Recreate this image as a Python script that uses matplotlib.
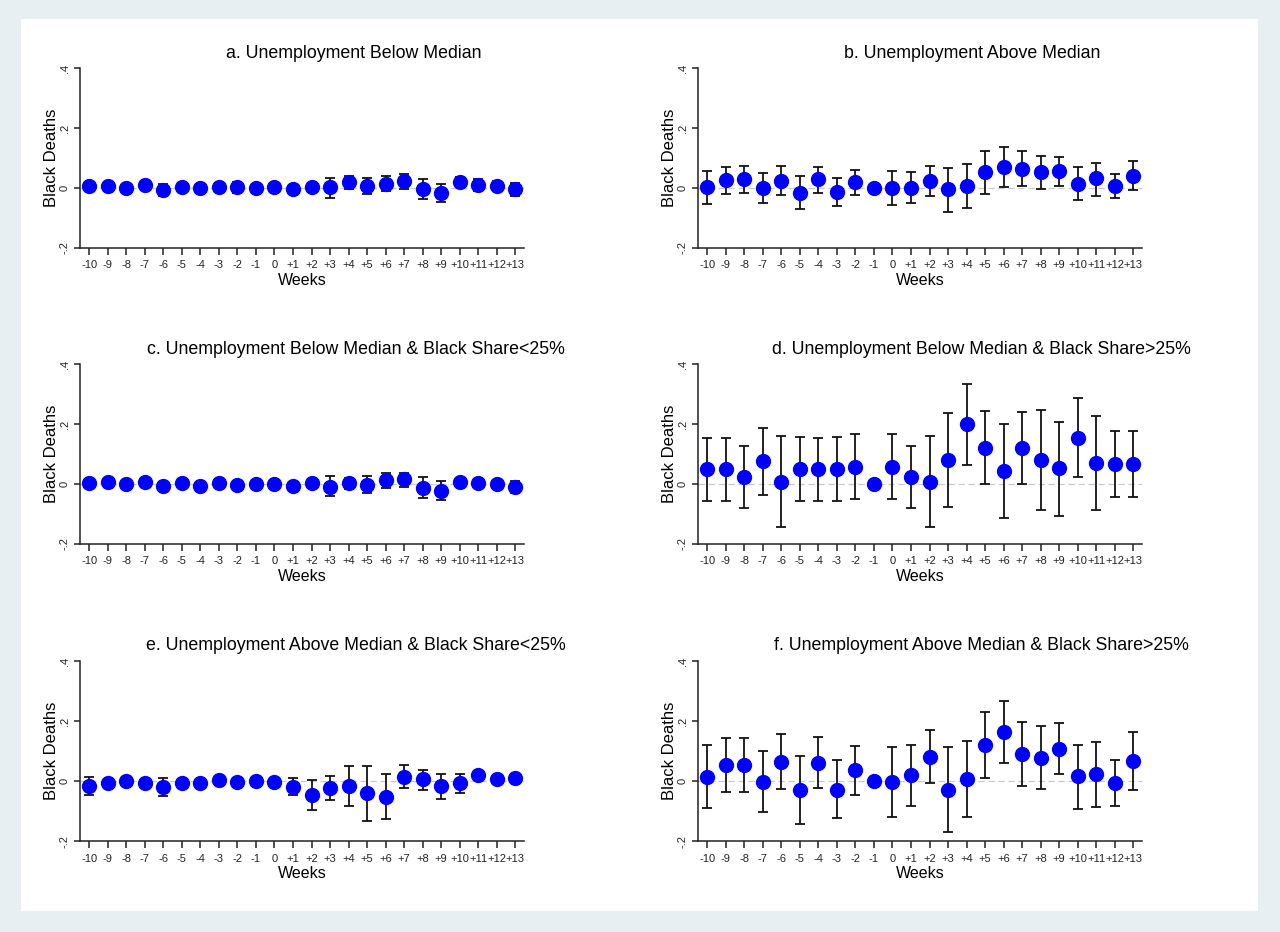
import numpy as np
import matplotlib
matplotlib.use('Agg')
import matplotlib.pyplot as plt
from matplotlib.patches import Rectangle

plt.rcParams['font.family'] = ['Liberation Sans', 'DejaVu Sans']

nan = np.nan

# weeks relative to event
weeks = list(range(-10, 14))
week_labels = [str(w) if w <= 0 else '+' + str(w) for w in weeks]

titles = ['a. Unemployment Below Median',
          'b. Unemployment Above Median',
          'c. Unemployment Below Median & Black Share<25%',
          'd. Unemployment Below Median & Black Share>25%',
          'e. Unemployment Above Median & Black Share<25%',
          'f. Unemployment Above Median & Black Share>25%']

# coefficient, lower ci, upper ci
a_coef = [0.006, 0.007, 0.000, 0.011, -0.006, 0.004, -0.001, 0.004, 0.002, 0.0, 0.004, -0.003,
          0.002, 0.002, 0.019, 0.007, 0.015, 0.022, -0.002, -0.017, 0.019, 0.009, 0.006, -0.002]
a_lo = [-0.004, -0.003, -0.008, -0.001, -0.025, -0.006, -0.014, -0.006, -0.016, nan, -0.007, -0.013,
        -0.009, -0.033, -0.002, -0.019, -0.011, -0.003, -0.038, -0.048, 0.002, -0.011, -0.009, -0.026]
a_hi = [0.016, 0.017, 0.009, 0.023, 0.015, 0.014, 0.013, 0.014, 0.020, nan, 0.015, 0.008,
        0.013, 0.034, 0.039, 0.035, 0.039, 0.046, 0.031, 0.015, 0.037, 0.029, 0.022, 0.016]

b_coef = [0.002, 0.027, 0.029, -0.001, 0.025, -0.016, 0.029, -0.013, 0.020, 0.0, 0.0, 0.001,
          0.025, -0.004, 0.007, 0.053, 0.070, 0.064, 0.053, 0.056, 0.015, 0.032, 0.007, 0.040]
b_lo = [-0.054, -0.020, -0.018, -0.051, -0.023, -0.070, -0.016, -0.060, -0.022, nan, -0.058, -0.051,
        -0.027, -0.079, -0.066, -0.019, 0.003, 0.007, -0.003, 0.008, -0.040, -0.025, -0.034, -0.007]
b_hi = [0.057, 0.070, 0.074, 0.049, 0.074, 0.040, 0.070, 0.035, 0.060, nan, 0.058, 0.053,
        0.075, 0.068, 0.079, 0.125, 0.136, 0.122, 0.106, 0.103, 0.069, 0.085, 0.046, 0.090]

c_coef = [0.003, 0.006, 0.000, 0.006, -0.006, 0.002, -0.006, 0.002, -0.002, 0.0, 0.0, -0.006,
          0.002, -0.010, 0.002, -0.003, 0.012, 0.016, -0.012, -0.023, 0.008, 0.004, 0.000, -0.010]
c_lo = [-0.005, -0.003, -0.008, -0.003, -0.016, -0.006, -0.015, -0.006, -0.011, nan, -0.008, -0.015,
        -0.006, -0.039, -0.017, -0.029, -0.012, -0.010, -0.046, -0.053, -0.006, -0.009, -0.013, -0.029]
c_hi = [0.011, 0.015, 0.008, 0.015, 0.004, 0.010, 0.003, 0.010, 0.007, nan, 0.008, 0.003,
        0.010, 0.028, 0.020, 0.026, 0.036, 0.038, 0.025, 0.009, 0.021, 0.017, 0.013, 0.011]

d_coef = [0.049, 0.049, 0.022, 0.076, 0.008, 0.049, 0.049, 0.049, 0.058, 0.0, 0.058, 0.022,
          0.008, 0.079, 0.199, 0.120, 0.042, 0.120, 0.079, 0.053, 0.154, 0.069, 0.067, 0.067]
d_lo = [-0.055, -0.055, -0.079, -0.036, -0.142, -0.058, -0.057, -0.058, -0.050, nan, -0.050, -0.079,
        -0.142, -0.078, 0.065, -0.001, -0.113, 0.001, -0.088, -0.105, 0.023, -0.088, -0.044, -0.044]
d_hi = [0.155, 0.155, 0.126, 0.188, 0.160, 0.156, 0.154, 0.156, 0.166, nan, 0.166, 0.126,
        0.160, 0.236, 0.334, 0.242, 0.199, 0.240, 0.246, 0.208, 0.287, 0.228, 0.177, 0.177]

e_coef = [-0.017, -0.007, 0.000, -0.008, -0.020, -0.007, -0.007, 0.002, -0.004, 0.0, -0.004, -0.021,
          -0.048, -0.023, -0.016, -0.041, -0.054, 0.015, 0.006, -0.018, -0.007, 0.020, 0.006, 0.009]
e_lo = [-0.047, -0.015, -0.007, -0.016, -0.049, -0.015, -0.015, -0.006, -0.012, nan, -0.012, -0.048,
        -0.096, -0.064, -0.082, -0.132, -0.126, -0.023, -0.029, -0.059, -0.039, 0.010, -0.002, -0.001]
e_hi = [0.012, 0.001, 0.007, 0.000, 0.010, 0.001, 0.001, 0.010, 0.004, nan, 0.004, 0.010,
        0.003, 0.018, 0.050, 0.049, 0.022, 0.054, 0.037, 0.025, 0.023, 0.030, 0.014, 0.019]

f_coef = [0.015, 0.054, 0.054, -0.002, 0.064, -0.031, 0.060, -0.029, 0.036, 0.0, -0.003, 0.019,
          0.080, -0.029, 0.008, 0.120, 0.163, 0.090, 0.078, 0.106, 0.016, 0.023, -0.008, 0.067]
f_lo = [-0.089, -0.037, -0.037, -0.103, -0.027, -0.142, -0.022, -0.123, -0.048, nan, -0.120, -0.082,
        -0.007, -0.169, -0.121, 0.011, 0.059, -0.016, -0.027, 0.022, -0.092, -0.085, -0.083, -0.029]
f_hi = [0.120, 0.143, 0.143, 0.100, 0.156, 0.085, 0.146, 0.069, 0.116, nan, 0.115, 0.120,
        0.170, 0.115, 0.135, 0.229, 0.266, 0.198, 0.182, 0.192, 0.121, 0.130, 0.070, 0.164]

panels = [(a_coef, a_lo, a_hi), (b_coef, b_lo, b_hi), (c_coef, c_lo, c_hi),
          (d_coef, d_lo, d_hi), (e_coef, e_lo, e_hi), (f_coef, f_lo, f_hi)]

fig = plt.figure(figsize=(12.8, 9.32), dpi=100)
fig.patch.set_facecolor('#e8eff2')
# white graph region
fig.patches.append(Rectangle((21 / 1280, 1 - 911 / 932), (1258 - 21) / 1280, (911 - 19) / 932,
                             transform=fig.transFigure, facecolor='white', edgecolor='none', zorder=-10))

lefts = [80, 698]
tops = [68, 364, 661]
title_x = [354, 972, 356, 981, 356, 981]
W, H = 1280.0, 932.0

for i, (coef, lo, hi) in enumerate(panels):
    r, c = i // 2, i % 2
    x0 = lefts[c]
    y0 = tops[r]
    ax = fig.add_axes([x0 / W, 1 - (y0 + 180) / H, 444 / W, 180 / H])
    x = np.array(weeks, dtype=float)
    coef = np.array(coef)
    lo = np.array(lo)
    hi = np.array(hi)

    ax.axhline(0, color='#c8c8c8', lw=0.9, ls=(0, (5, 3)), zorder=1)
    ok = ~np.isnan(lo)
    ax.errorbar(x[ok], coef[ok], yerr=[coef[ok] - lo[ok], hi[ok] - coef[ok]], fmt='none',
                ecolor='#111111', elinewidth=1.3, capsize=3.6, capthick=1.3, zorder=2)
    # markers on top of the bars
    ax.plot(x, coef, 'o', color='#0000ff', ms=10, mec='#0000ff', zorder=3)

    ax.set_xlim(-10.5, 13.47)
    ax.set_ylim(-0.2, 0.4)
    ax.set_xticks(weeks)
    ax.set_xticklabels(week_labels, fontsize=8)
    ax.set_yticks([-0.2, 0, 0.2, 0.4])
    ax.set_yticklabels(['-.2', '0', '.2', '.4'], fontsize=8, rotation=90, va='center')
    ax.tick_params(axis='x', direction='out', length=5, width=1.1, pad=4, colors='#222222')
    ax.tick_params(axis='y', direction='out', length=4.5, width=1.1, pad=3, colors='#222222')
    for s in ['top', 'right']:
        ax.spines[s].set_visible(False)
    for s in ['left', 'bottom']:
        ax.spines[s].set_linewidth(1.1)
        ax.spines[s].set_color('#222222')
    ax.set_xlabel('Weeks', fontsize=11.5, labelpad=2)
    ax.set_ylabel('Black Deaths', fontsize=12)
    ax.yaxis.set_label_coords(-0.048, 0.5)
    ax.patch.set_alpha(0)

    fig.text(title_x[i] / W, 1 - (y0 - 15) / H, titles[i], fontsize=12.8, ha='center', va='center')

fig.savefig('out.png', dpi=100, facecolor=fig.get_facecolor())
